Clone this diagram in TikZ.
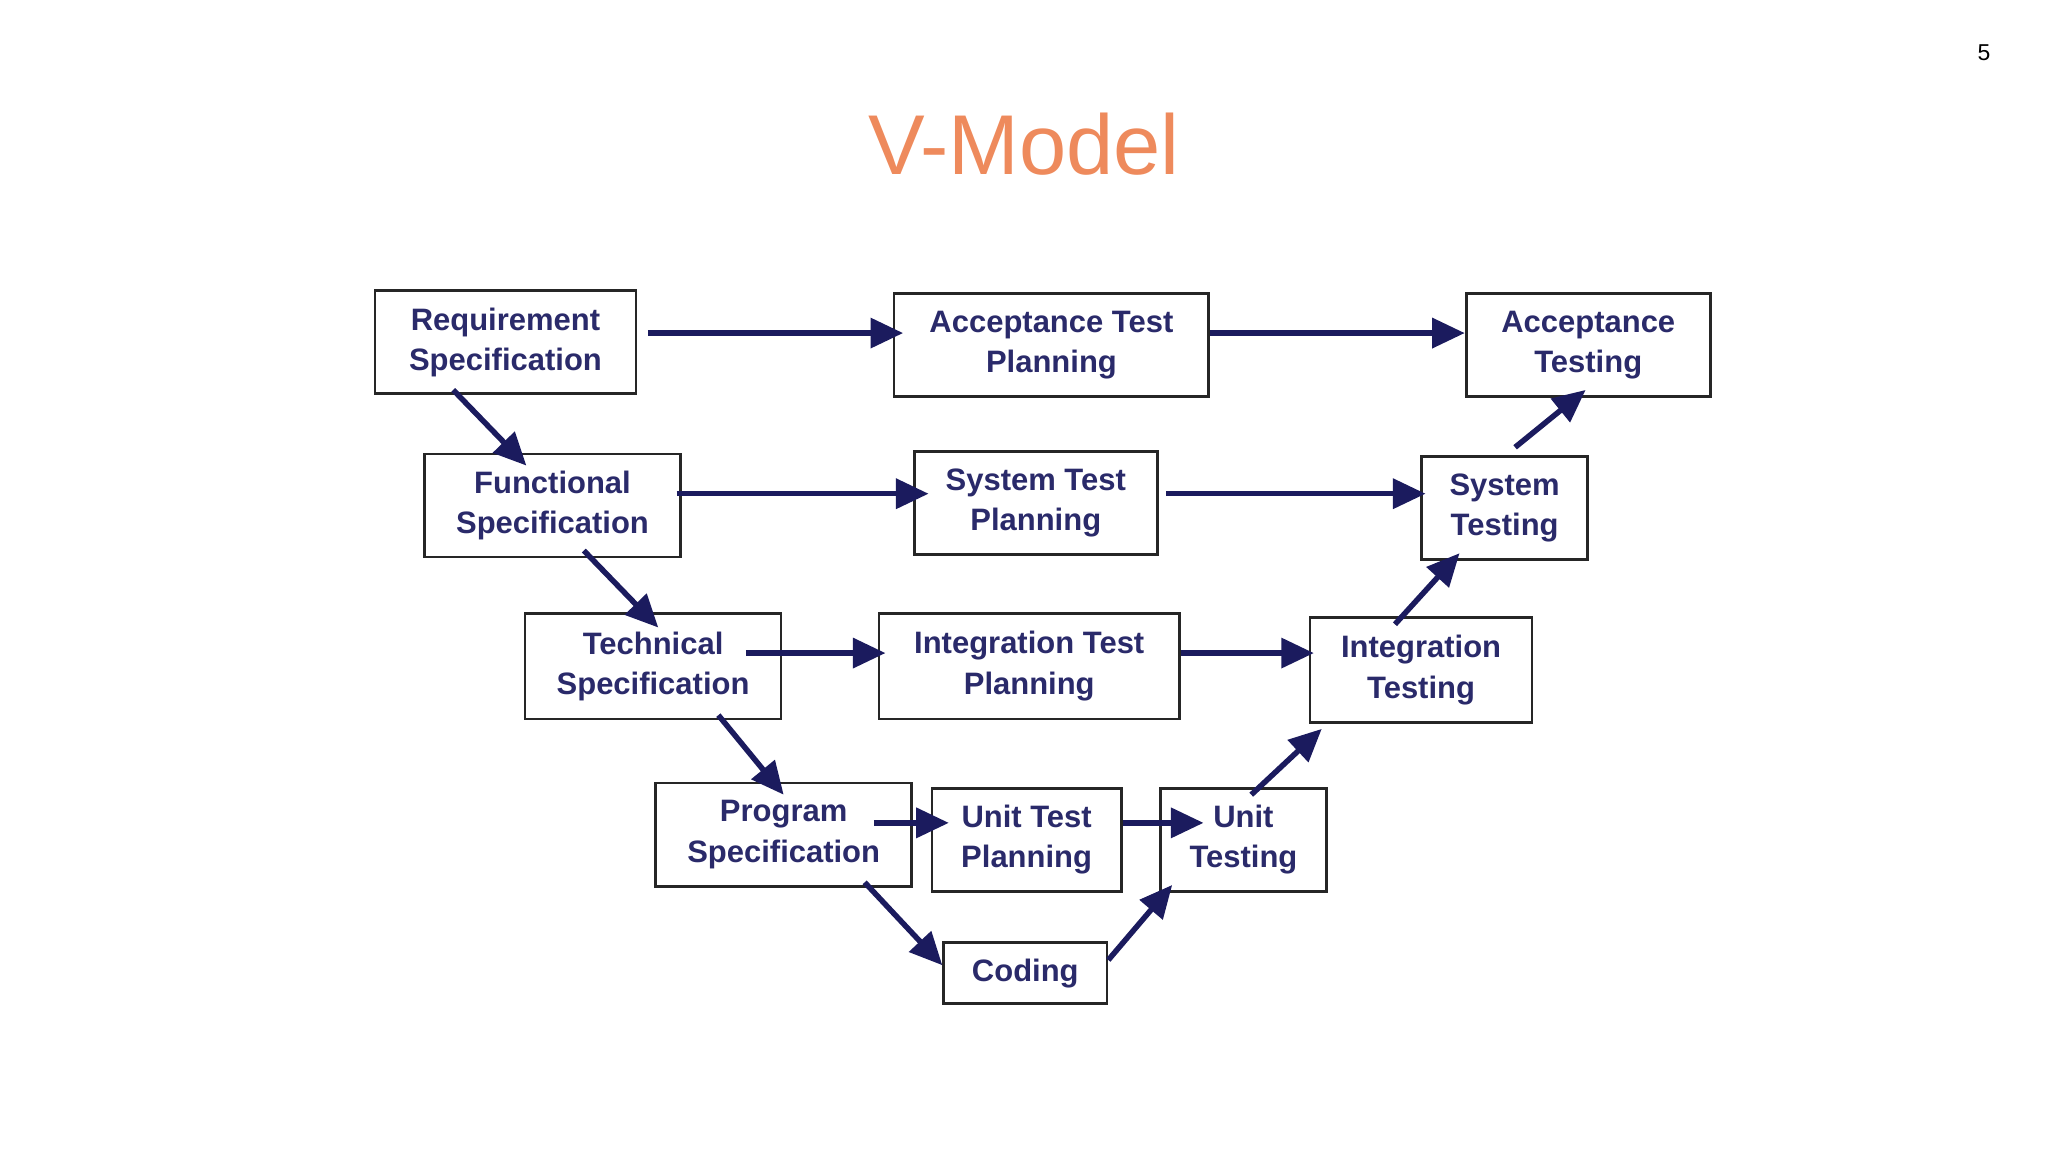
\documentclass[tikz,border=0pt]{standalone}
\usepackage{fontspec}
\setmainfont{Liberation Sans}
\usetikzlibrary{arrows.meta}
\definecolor{navy}{HTML}{1B1B5E}
\definecolor{titleor}{HTML}{EE8A5C}
\definecolor{boxtext}{HTML}{2A2A6A}
\begin{document}
\begin{tikzpicture}[x=0.02cm,y=-0.02cm,
  vbox/.style={draw=black!85,line width=1.2pt,fill=white,inner sep=0pt,align=center,
    font=\fontsize{13.5}{17.5}\selectfont\bfseries,text=boxtext},
  arr/.style={draw=navy,line width=2.4pt,-{Triangle[length=0.5cm,width=0.45cm]}}]
\useasboundingbox (0,0) rectangle (1568,882);
\node[font=\fontsize{10}{12}\selectfont] (pg) at (1519,40) {5};
\node[font=\fontsize{37}{44}\selectfont,text=titleor] (title) at (784,110) {V-Model};
\node[vbox,minimum width=4cm,minimum height=1.58cm] (req) at (387,262) {Requirement\\Specification};
\node[vbox,minimum width=4.82cm,minimum height=1.58cm] (atp) at (805,264) {Acceptance Test\\Planning};
\node[vbox,minimum width=3.74cm,minimum height=1.58cm] (at) at (1216,264) {Acceptance\\Testing};
\node[vbox,minimum width=3.92cm,minimum height=1.58cm] (fun) at (423,387) {Functional\\Specification};
\node[vbox,minimum width=3.72cm,minimum height=1.58cm] (stp) at (793,385) {System Test\\Planning};
\node[vbox,minimum width=2.54cm,minimum height=1.58cm] (st) at (1152,389) {System\\Testing};
\node[vbox,minimum width=3.92cm,minimum height=1.62cm] (tec) at (500,510) {Technical\\Specification};
\node[vbox,minimum width=4.6cm,minimum height=1.62cm] (itp) at (788,510) {Integration Test\\Planning};
\node[vbox,minimum width=3.4cm,minimum height=1.6cm] (it) at (1088,513) {Integration\\Testing};
\node[vbox,minimum width=3.92cm,minimum height=1.58cm] (prg) at (600,639) {Program\\Specification};
\node[vbox,minimum width=2.9cm,minimum height=1.58cm] (utp) at (786,643) {Unit Test\\Planning};
\node[vbox,minimum width=2.54cm,minimum height=1.58cm] (ut) at (952,643) {Unit\\Testing};
\node[vbox,minimum width=2.5cm,minimum height=0.94cm] (cod) at (785,745) {Coding};
% horizontal
\draw[arr] ([shift={(8,-7)}]req.east) -- ([shift={(8,-9)}]atp.west);
\draw[arr] ([shift={(0,-9)}]atp.east) -- ([shift={(0,-9)}]at.west);
\draw[arr] ([shift={(-4,-9)}]fun.east) -- ([shift={(12,-7)}]stp.west);
\draw[arr] ([shift={(6,-7)}]stp.east) -- ([shift={(4,-11)}]st.west);
\draw[arr] ([shift={(-28,-10)}]tec.east) -- ([shift={(6,-10)}]itp.west);
\draw[arr] ([shift={(0,-10)}]itp.east) -- ([shift={(4,-13)}]it.west);
\draw[arr] ([shift={(-30,-9)}]prg.east) -- ([shift={(14,-13)}]utp.west);
\draw[arr] ([shift={(0,-13)}]utp.east) -- ([shift={(34,-13)}]ut.west);
% down
\draw[arr] ([shift={(-40,-4)}]req.south) -- ([shift={(-20,10)}]fun.north);
\draw[arr] ([shift={(24,-6)}]fun.south) -- ([shift={(4,12)}]tec.north);
\draw[arr] ([shift={(50,-4)}]tec.south) -- ([shift={(0,10)}]prg.north);
\draw[arr] ([shift={(62,-4)}]prg.south) -- ([shift={(0,-6)}]cod.west);
% up
\draw[arr] ([shift={(0,-10)}]cod.east) -- ([shift={(10,-6)}]ut.south west);
\draw[arr] ([shift={(6,6)}]ut.north) -- ([shift={(10,4)}]it.south west);
\draw[arr] ([shift={(-20,6)}]it.north) -- ([shift={(30,-6)}]st.south west);
\draw[arr] ([shift={(8,-6)}]st.north) -- ([shift={(-2,-6)}]at.south);
\end{tikzpicture}
\end{document}
